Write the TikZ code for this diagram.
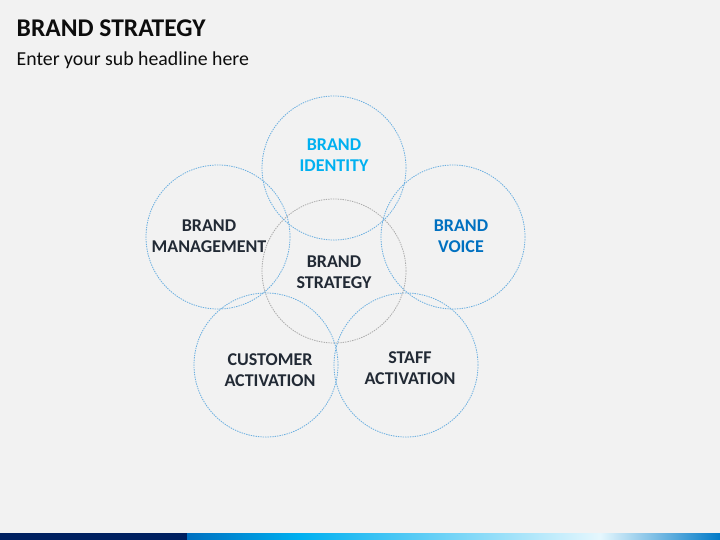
\documentclass[tikz,border=0pt]{standalone}
\usepackage{fontspec}
\setmainfont{Carlito}
\definecolor{bg}{HTML}{F2F2F2}
\definecolor{navy}{HTML}{002060}
\definecolor{cblue}{HTML}{0070C0}
\definecolor{ccyan}{HTML}{00B0F0}
\definecolor{ringblue}{HTML}{6AAEE0}
\definecolor{ringgray}{HTML}{ABABAB}
\definecolor{labeldark}{HTML}{222A35}
\definecolor{titlecol}{HTML}{0D0D0D}
\tikzset{
  ring/.style={circle, draw=ringblue, line width=0.8pt, dash pattern=on 1.4pt off 1pt, minimum size=144pt, inner sep=0pt},
  grayring/.style={ring, draw=ringgray},
  lbl/.style={align=center, font=\bfseries\fontsize{18}{21.5}\selectfont, text=labeldark, inner sep=0pt},
}
\begin{document}
\begin{tikzpicture}[x=1pt,y=-1pt]
\fill[bg] (0,0) rectangle (720,540);
\useasboundingbox (0,0) rectangle (720,540);
% title
\node[anchor=base west, inner sep=0pt, text=titlecol, font=\bfseries\fontsize{25.5}{30}\selectfont] (title) at (16.5,36.5) {BRAND STRATEGY};
\node[anchor=base west, inner sep=0pt, text=titlecol, font=\fontsize{19.8}{24}\selectfont] (subtitle) at (16.5,65.7) {Enter your sub headline here};
% circles
\node[grayring] (cstrategy) at (334,271) {};
\node[ring] (cidentity) at (334,168) {};
\node[ring] (cmanagement) at (218,237) {};
\node[ring] (cvoice) at (453,237) {};
\node[ring] (ccustomer) at (266,365) {};
\node[ring] (cstaff) at (406,365) {};
% labels
\node[lbl, text=ccyan] (lidentity) at (334,155) {BRAND\\IDENTITY};
\node[lbl] (lmanagement) at (209,236) {BRAND\\MANAGEMENT};
\node[lbl, text=cblue] (lvoice) at (461,236) {BRAND\\VOICE};
\node[lbl] (lstrategy) at (334,272) {BRAND\\STRATEGY};
\node[lbl] (lcustomer) at (270,370) {CUSTOMER\\ACTIVATION};
\node[lbl] (lstaff) at (410,368) {STAFF\\ACTIVATION};
% bottom bar
\fill[navy] (0,533) rectangle (187,540);
\shade[left color=cblue, right color=ccyan] (187,533) rectangle (300.5,540);
\shade[left color=ccyan, right color=white!90!ccyan] (300,533) rectangle (600.5,540);
\shade[left color=white!90!ccyan, right color=cblue!85!ccyan] (600,533) rectangle (720,540);
\end{tikzpicture}
\end{document}
